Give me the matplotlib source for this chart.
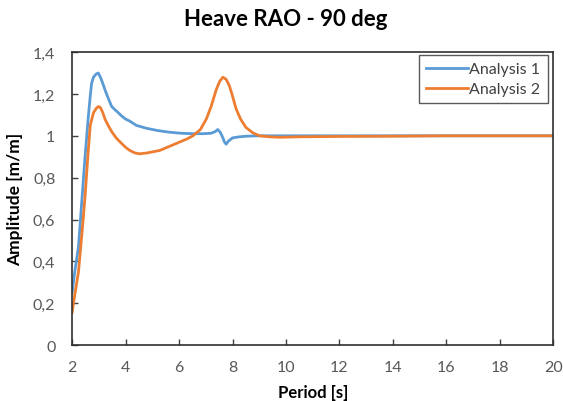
import matplotlib
matplotlib.use('Agg')
import matplotlib.pyplot as plt
from matplotlib.ticker import FuncFormatter, MultipleLocator

plt.rcParams['font.family'] = ['Lato', 'DejaVu Sans']

# Analysis 1 (blue)
period_1 = [2.0, 2.1, 2.24, 2.36, 2.48, 2.6, 2.68, 2.73, 2.8, 2.9, 2.98, 3.06,
            3.15, 3.23, 3.35, 3.48, 3.6, 3.73, 3.85, 4.0, 4.16, 4.4, 4.78, 5.2,
            5.65, 6.1, 6.52, 6.9, 7.2, 7.35, 7.45, 7.55, 7.63, 7.7, 7.76, 7.85,
            8.0, 8.25, 8.5, 9.0, 10, 12, 14, 16, 18, 20]
amp_1 = [0.25, 0.35, 0.47, 0.68, 0.89, 1.08, 1.19, 1.25, 1.28, 1.295, 1.30, 1.28,
         1.25, 1.22, 1.18, 1.14, 1.125, 1.11, 1.095, 1.08, 1.07, 1.05, 1.036, 1.025,
         1.017, 1.012, 1.01, 1.01, 1.012, 1.02, 1.03, 1.015, 0.993, 0.97, 0.96, 0.975,
         0.99, 0.995, 0.998, 1.0, 1.0, 1.0, 1.0, 1.0, 1.0, 1.0]

# Analysis 2 (orange)
period_2 = [2.0, 2.1, 2.24, 2.36, 2.48, 2.6, 2.68, 2.8, 2.9, 2.98, 3.06, 3.15,
            3.23, 3.35, 3.48, 3.65, 3.8, 4.0, 4.16, 4.35, 4.53, 4.8, 5.28, 5.65,
            6.02, 6.3, 6.52, 6.8, 7.02, 7.2, 7.39, 7.52, 7.64, 7.76, 7.88, 8.0,
            8.13, 8.3, 8.5, 8.75, 9.0, 9.4, 9.75, 10.5, 12, 14, 16, 18, 20]
amp_2 = [0.155, 0.24, 0.35, 0.52, 0.70, 0.92, 1.05, 1.11, 1.13, 1.14, 1.135, 1.11,
         1.08, 1.05, 1.02, 0.99, 0.97, 0.945, 0.93, 0.918, 0.914, 0.918, 0.93, 0.95,
         0.97, 0.985, 1.0, 1.03, 1.08, 1.14, 1.22, 1.26, 1.28, 1.27, 1.24, 1.19,
         1.13, 1.08, 1.04, 1.015, 1.0, 0.995, 0.993, 0.995, 0.997, 0.998, 1.0, 1.0, 1.0]

x_ticks = [2, 4, 6, 8, 10, 12, 14, 16, 18, 20]


def comma_fmt(v, pos):
    s = '{:g}'.format(round(v, 2))
    return s.replace('.', ',')


fig = plt.figure(figsize=(5.63, 4.02), dpi=100)
ax = fig.add_axes([0.128, 0.139, 0.855, 0.729])

ax.plot(period_1, amp_1, color='#5B9BD5', lw=2.0, label='Analysis 1',
        solid_joinstyle='round')
ax.plot(period_2, amp_2, color='#ED7D31', lw=2.0, label='Analysis 2',
        solid_joinstyle='round')

ax.set_xlim(2, 20)
ax.set_ylim(0, 1.4)
ax.set_xticks(x_ticks)
ax.yaxis.set_major_locator(MultipleLocator(0.2))
ax.yaxis.set_major_formatter(FuncFormatter(comma_fmt))
ax.tick_params(direction='in', length=4, width=1, colors='#404040',
               labelcolor='#595959', labelsize=11.5)
ax.tick_params(axis='x', pad=11)
ax.tick_params(axis='y', pad=12)
for s in ax.spines.values():
    s.set_color('#303030')
    s.set_linewidth(1.2)

ax.set_xlabel('Period [s]', fontsize=12, fontweight='bold', labelpad=7)
ax.set_ylabel('Amplitude [m/m]', fontsize=12.5, fontweight='bold', labelpad=7)
fig.suptitle('Heave RAO - 90 deg', x=0.508, y=0.978, fontsize=16, fontweight='bold')

leg = ax.legend(loc='upper right', bbox_to_anchor=(0.988, 0.99), fancybox=False,
                edgecolor='#303030', fontsize=11.5, handlelength=2.6,
                handletextpad=0.1, borderpad=0.45, labelspacing=0.35,
                borderaxespad=0.0)
leg.get_frame().set_linewidth(1.0)
for t in leg.get_texts():
    t.set_color('#404040')

fig.savefig('out.png', dpi=100)
